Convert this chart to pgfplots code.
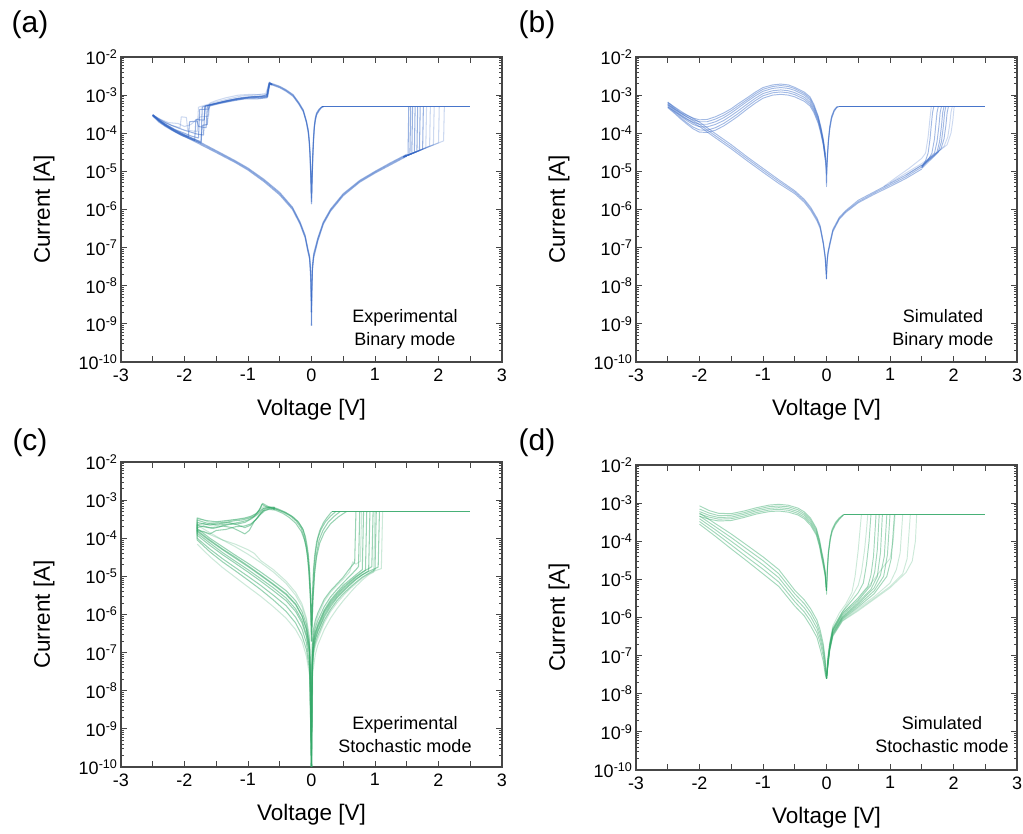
\documentclass[border=0pt]{standalone}
\usepackage{pgfplots}
\pgfplotsset{compat=1.18}
\usepackage{pgfplotstable}
\usepackage{fontspec}
\setmainfont{Liberation Sans}

\definecolor{cblue}{RGB}{52,102,196}
\definecolor{cgreen}{RGB}{52,168,104}
\definecolor{framecol}{RGB}{70,70,70}

\newcommand{\ylab}[1]{10\textsuperscript{-#1}}

% ---------- (a) experimental binary ----------
\pgfplotstableread{
x a b c
0 9e-10 2e-9 4e-9
0.005 5e-9 7e-9 1e-8
0.015 2.5e-8 3e-8 3.5e-8
0.035 5.5e-8 6.2e-8 7e-8
0.06 8e-8 9e-8 1e-7
0.1 1.5e-7 1.65e-7 1.8e-7
0.186 4.1e-7 4.4e-7 4.7e-7
0.3 9e-7 9.6e-7 1.02e-6
0.5 2.3e-6 2.45e-6 2.6e-6
0.76 5.2e-6 5.5e-6 5.8e-6
1.0 9e-6 9.5e-6 1e-5
1.25 1.5e-5 1.6e-5 1.7e-5
1.5 2.5e-5 2.65e-5 2.8e-5
}\Ahr
\pgfplotstableread{
x a b c
0.19 5e-4 5e-4 5e-4
0.16 4.9e-4 4.85e-4 4.8e-4
0.12 4.3e-4 4.1e-4 3.9e-4
0.08 3.4e-4 3.2e-4 3e-4
0.06 2.5e-4 2.3e-4 2.1e-4
0.045 1.6e-4 1.5e-4 1.4e-4
0.032 8e-5 7e-5 6e-5
0.02 3e-5 2.5e-5 2e-5
0.01 8e-6 7e-6 6e-6
0 1.4e-6 1.6e-6 2e-6
-0.01 8e-6 7e-6 6e-6
-0.022 3e-5 2.6e-5 2.2e-5
-0.035 6.5e-5 6e-5 5.5e-5
-0.05 1.2e-4 1.1e-4 1e-4
-0.08 2.1e-4 2e-4 1.9e-4
-0.13 4.1e-4 3.9e-4 3.7e-4
-0.2 6.4e-4 6.1e-4 5.8e-4
-0.29 1.03e-3 9.8e-4 9.3e-4
-0.4 1.38e-3 1.32e-3 1.26e-3
-0.5 1.7e-3 1.63e-3 1.56e-3
-0.6 1.95e-3 1.87e-3 1.8e-3
-0.65 2.05e-3 1.97e-3 1.9e-3
}\Alrs
\pgfplotstableread{
x a b c
-2.5 3.1e-4 2.95e-4 2.8e-4
-2.45 2.55e-4 2.45e-4 2.35e-4
-2.4 2.15e-4 2.05e-4 1.95e-4
-2.3 1.65e-4 1.57e-4 1.5e-4
-2.2 1.33e-4 1.26e-4 1.2e-4
-2.1 1.1e-4 1.04e-4 9.8e-5
-2.0 9.2e-5 8.7e-5 8.2e-5
-1.8 6.4e-5 6e-5 5.6e-5
-1.5 3.5e-5 3.3e-5 3.1e-5
-1.2 1.9e-5 1.8e-5 1.7e-5
-1.0 1.22e-5 1.15e-5 1.08e-5
-0.75 6.2e-6 5.8e-6 5.4e-6
-0.5 2.8e-6 2.6e-6 2.4e-6
-0.3 1.15e-6 1.08e-6 1e-6
-0.18 4.7e-7 4.4e-7 4.1e-7
-0.1 2.1e-7 1.95e-7 1.8e-7
-0.055 9e-8 8.3e-8 7.6e-8
-0.03 6e-8 5.5e-8 5e-8
-0.012 2.5e-8 2e-8 1.5e-8
0 4e-9 2e-9 9e-10
}\Ahl

% ---------- (b) simulated binary ----------
\pgfplotstableread{
x a b c
0 1.5e-8 2e-8 3e-8
0.01 4e-8 4.5e-8 5e-8
0.025 7e-8 7.5e-8 8e-8
0.05 1.1e-7 1.2e-7 1.3e-7
0.1 2.6e-7 2.8e-7 3e-7
0.2 5.5e-7 5.8e-7 6.2e-7
0.3 8.3e-7 8.8e-7 9.3e-7
0.5 1.5e-6 1.6e-6 1.75e-6
0.75 2.5e-6 2.7e-6 2.9e-6
1.0 4e-6 4.4e-6 4.8e-6
1.25 6.5e-6 7.2e-6 8e-6
1.5 1.15e-5 1.3e-5 1.45e-5
}\Bhr
\pgfplotstableread{
x a b c
0.19 5e-4 5e-4 5e-4
0.16 4.9e-4 4.8e-4 4.7e-4
0.12 4.1e-4 3.9e-4 3.7e-4
0.08 2.8e-4 2.6e-4 2.4e-4
0.05 1.5e-4 1.35e-4 1.2e-4
0.03 7e-5 6.3e-5 5.6e-5
0.015 3e-5 2.6e-5 2.2e-5
0.005 1.4e-5 1.2e-5 1e-5
0 8e-6 5e-6 4e-6
-0.005 1.4e-5 1.2e-5 1e-5
-0.02 3e-5 2.6e-5 2.2e-5
}\Bdip
\pgfplotstableread{
x a b c d e f
-0.02 3e-5 2.8e-5 2.6e-5 2.4e-5 2.2e-5 2e-5
-0.05 7e-5 6.5e-5 6e-5 5.6e-5 5.2e-5 4.8e-5
-0.09 1.5e-4 1.4e-4 1.3e-4 1.2e-4 1.1e-4 1e-4
-0.13 2.8e-4 2.6e-4 2.4e-4 2.2e-4 2e-4 1.8e-4
-0.2 5.8e-4 5.3e-4 4.8e-4 4.3e-4 3.9e-4 3.5e-4
-0.26 9e-4 8.2e-4 7.4e-4 6.5e-4 5.8e-4 5.2e-4
-0.35 1.2e-3 1.1e-3 1e-3 8.8e-4 7.8e-4 6.9e-4
-0.5 1.6e-3 1.48e-3 1.33e-3 1.16e-3 1.03e-3 9e-4
-0.6 1.85e-3 1.68e-3 1.5e-3 1.3e-3 1.15e-3 1e-3
-0.72 1.95e-3 1.78e-3 1.58e-3 1.37e-3 1.21e-3 1.05e-3
-0.85 1.85e-3 1.68e-3 1.5e-3 1.3e-3 1.15e-3 1e-3
-1.0 1.58e-3 1.42e-3 1.26e-3 1.1e-3 9.6e-4 8.3e-4
-1.12 1.2e-3 1.08e-3 9.6e-4 8.3e-4 7.2e-4 6.2e-4
-1.25 8.5e-4 7.6e-4 6.8e-4 5.8e-4 5e-4 4.3e-4
-1.4 5.8e-4 5.1e-4 4.5e-4 3.8e-4 3.2e-4 2.75e-4
-1.5 4.4e-4 3.9e-4 3.4e-4 2.9e-4 2.45e-4 2.1e-4
-1.62 3.4e-4 2.95e-4 2.55e-4 2.15e-4 1.8e-4 1.55e-4
-1.75 2.7e-4 2.35e-4 2e-4 1.7e-4 1.4e-4 1.2e-4
-1.88 2.3e-4 2e-4 1.72e-4 1.47e-4 1.2e-4 1.05e-4
-2.0 2.25e-4 2e-4 1.72e-4 1.48e-4 1.22e-4 1.07e-4
-2.1 2.5e-4 2.25e-4 1.95e-4 1.7e-4 1.45e-4 1.3e-4
-2.2 2.95e-4 2.7e-4 2.4e-4 2.15e-4 1.9e-4 1.75e-4
-2.3 3.6e-4 3.4e-4 3.1e-4 2.85e-4 2.6e-4 2.4e-4
-2.4 4.8e-4 4.5e-4 4.2e-4 3.9e-4 3.6e-4 3.4e-4
-2.5 6.6e-4 6.2e-4 5.8e-4 5.4e-4 5e-4 4.7e-4
}\Bhump
\pgfplotstableread{
x a b c
-2.5 6.4e-4 5.6e-4 4.9e-4
-2.25 3.4e-4 3e-4 2.6e-4
-2.0 1.95e-4 1.7e-4 1.5e-4
-1.75 9.8e-5 8.6e-5 7.6e-5
-1.5 5e-5 4.4e-5 3.9e-5
-1.25 2.4e-5 2.15e-5 1.9e-5
-1.0 1.2e-5 1.07e-5 9.5e-6
-0.75 6e-6 5.4e-6 4.8e-6
-0.5 3.1e-6 2.85e-6 2.6e-6
-0.35 1.85e-6 1.7e-6 1.55e-6
-0.25 1.15e-6 1.05e-6 9.5e-7
-0.15 6e-7 5.5e-7 5e-7
-0.1 3.8e-7 3.5e-7 3.2e-7
-0.05 1.4e-7 1.3e-7 1.2e-7
-0.02 6e-8 5.5e-8 5e-8
0 2e-8 1.5e-8 1.5e-8
}\Bret

% ---------- (d) simulated stochastic ----------
\pgfplotstableread{
x a b c
0.27 5e-4 5e-4 5e-4
0.2 4.1e-4 3.9e-4 3.7e-4
0.14 3.1e-4 2.9e-4 2.7e-4
0.09 2.1e-4 1.95e-4 1.8e-4
0.06 1.3e-4 1.2e-4 1.1e-4
0.03 5.5e-5 5e-5 4.5e-5
0.015 2.2e-5 2e-5 1.8e-5
0 6e-6 5e-6 4e-6
}\Ddip
\pgfplotstableread{
x a b c d e
0 5e-6 5e-6 5e-6 5e-6 5e-6
-0.02 1.6e-5 1.5e-5 1.4e-5 1.3e-5 1.2e-5
-0.05 3.4e-5 3.1e-5 2.8e-5 2.5e-5 2.2e-5
-0.076 5.5e-5 5e-5 4.5e-5 4e-5 3.6e-5
-0.11 1.1e-4 1e-4 9e-5 8e-5 7.2e-5
-0.16 2.2e-4 2e-4 1.8e-4 1.6e-4 1.45e-4
-0.25 4e-4 3.6e-4 3.2e-4 2.9e-4 2.6e-4
-0.35 5.9e-4 5.3e-4 4.8e-4 4.3e-4 3.9e-4
-0.45 7.4e-4 6.7e-4 6e-4 5.4e-4 4.9e-4
-0.6 8.8e-4 8e-4 7.2e-4 6.5e-4 5.8e-4
-0.75 9.3e-4 8.4e-4 7.6e-4 6.9e-4 6.2e-4
-0.9 8.9e-4 8.1e-4 7.3e-4 6.6e-4 6e-4
-1.1 7.6e-4 6.9e-4 6.3e-4 5.7e-4 5.2e-4
-1.3 6.2e-4 5.6e-4 5.1e-4 4.6e-4 4.2e-4
-1.5 5.3e-4 4.8e-4 4.3e-4 3.9e-4 3.5e-4
-1.7 5.4e-4 4.7e-4 4.2e-4 3.8e-4 3.4e-4
-1.85 6.4e-4 5.5e-4 4.8e-4 4.3e-4 3.8e-4
-2.0 8.5e-4 7e-4 6e-4 5.2e-4 4.5e-4
}\Dhump
\pgfplotstableread{
x a b c d e
-2.0 5.5e-4 4.6e-4 3.9e-4 3.3e-4 2.8e-4
-1.75 2.9e-4 2.4e-4 2e-4 1.65e-4 1.35e-4
-1.5 1.55e-4 1.25e-4 1e-4 8e-5 6.3e-5
-1.25 7.8e-5 6.2e-5 4.9e-5 3.8e-5 3e-5
-1.0 3.9e-5 3.1e-5 2.4e-5 1.85e-5 1.4e-5
-0.75 1.8e-5 1.4e-5 1.1e-5 8.5e-6 6.5e-6
-0.5 5.2e-6 4.2e-6 3.3e-6 2.6e-6 2e-6
-0.35 2.9e-6 2.3e-6 1.8e-6 1.4e-6 1.1e-6
-0.25 1.7e-6 1.35e-6 1.05e-6 8e-7 6e-7
-0.15 8.5e-7 6.7e-7 5.2e-7 4e-7 3e-7
-0.1 4.7e-7 3.7e-7 2.9e-7 2.2e-7 1.5e-7
-0.05 2e-7 1.6e-7 1.25e-7 9.5e-8 7e-8
-0.02 8e-8 6.5e-8 5e-8 4e-8 3.2e-8
0 2.5e-8 2.5e-8 2.5e-8 2.5e-8 2.5e-8
}\Dret

\begin{document}
\begin{tikzpicture}
\path[use as bounding box] (0,0) rectangle (1023pt,834pt);

% ================= (a) =================
\begin{axis}[at={(121pt,472pt)}, anchor=south west,
  scale only axis, width=381pt, height=305pt,
  xmin=-3, xmax=3, ymode=log, ymin=1e-10, ymax=1e-2,
  xtick={-3,-2.5,-2,-1.5,-1,-0.5,0,0.5,1,1.5,2,2.5,3},
  xticklabels={-3,,-2,,-1,,0,,1,,2,,3},
  ytick={1e-10,1e-9,1e-8,1e-7,1e-6,1e-5,1e-4,1e-3,1e-2},
  yticklabels={\ylab{10},\ylab{9},\ylab{8},\ylab{7},\ylab{6},\ylab{5},\ylab{4},\ylab{3},\ylab{2}},
  tick align=inside, major tick length=6pt, minor tick length=3pt,
  axis line style={draw=framecol, line width=1.1pt},
  tick style={draw=framecol, line width=0.8pt},
  tick label style={font=\fontsize{18}{18}\selectfont},
  xticklabel style={yshift=-3pt},
  xlabel={Voltage [V]}, ylabel={Current [A]},
  xlabel style={font=\fontsize{22.5}{22.5}\selectfont, at={(axis description cs:0.5,-0.11)}, anchor=north},
  ylabel style={font=\fontsize{22.5}{22.5}\selectfont, at={(axis description cs:-0.165,0.5)}, anchor=south},
  cycle list={{cblue}},
  every axis plot/.append style={no marks, solid, line width=1.05pt, color=cblue, opacity=0.5, line join=round},
]
\addplot table[x=x,y=a] {\Ahr};
\addplot table[x=x,y=b] {\Ahr};
\addplot table[x=x,y=c] {\Ahr};
\addplot table[x=x,y=a] {\Alrs};
\addplot table[x=x,y=b] {\Alrs};
\addplot table[x=x,y=c] {\Alrs};
\addplot table[x=x,y=a] {\Ahl};
\addplot table[x=x,y=b] {\Ahl};
\addplot table[x=x,y=c] {\Ahl};
% set events
\addplot coordinates {(1.45,2.4e-5)(1.52,2.68e-5)(1.532,5e-4)};
\addplot coordinates {(1.45,2.4e-5)(1.55,2.8e-5)(1.562,5e-4)};
\addplot coordinates {(1.45,2.4e-5)(1.58,2.9e-5)(1.592,5e-4)};
\addplot coordinates {(1.45,2.4e-5)(1.62,3.1e-5)(1.632,5e-4)};
\addplot coordinates {(1.45,2.4e-5)(1.66,3.3e-5)(1.672,5e-4)};
\addplot coordinates {(1.45,2.4e-5)(1.70,3.5e-5)(1.712,5e-4)};
\addplot coordinates {(1.45,2.4e-5)(1.75,3.8e-5)(1.762,5e-4)};
\addplot[opacity=0.25] coordinates {(1.45,2.4e-5)(1.80,4.1e-5)(1.812,5e-4)};
\addplot[opacity=0.25] coordinates {(1.45,2.4e-5)(1.86,4.6e-5)(1.872,5e-4)};
\addplot[opacity=0.25] coordinates {(1.45,2.4e-5)(1.92,5e-5)(1.932,5e-4)};
\addplot[opacity=0.25] coordinates {(1.45,2.4e-5)(2.00,5.6e-5)(2.012,5e-4)};
\addplot[opacity=0.25] coordinates {(1.45,2.4e-5)(2.08,6.3e-5)(2.092,5e-4)};
\addplot[opacity=0.9] coordinates {(0.17,5e-4)(2.5,5e-4)};
% reset events
\addplot coordinates {(-0.62,1.92e-3)(-0.665,2.15e-3)(-0.7,1.05e-3)(-0.8,9e-4)(-1.0,8.8e-4)(-1.2,7.8e-4)(-1.4,6.7e-4)(-1.6,5.6e-4)(-1.68,5.2e-4)(-1.7,9e-5)(-1.8,9.5e-5)(-1.9,1.07e-4)(-2.0,1.2e-4)(-2.1,1.38e-4)(-2.2,1.6e-4)(-2.3,1.9e-4)(-2.4,2.35e-4)(-2.5,3e-4)};
\addplot coordinates {(-0.62,1.85e-3)(-0.655,2e-3)(-0.69,9e-4)(-0.8,8.5e-4)(-1.0,8.3e-4)(-1.2,7.5e-4)(-1.4,6.4e-4)(-1.6,5.4e-4)(-1.72,4.9e-4)(-1.74,6e-5)(-1.85,7e-5)(-2.0,9e-5)(-2.1,1.1e-4)(-2.2,1.35e-4)(-2.3,1.7e-4)(-2.4,2.2e-4)(-2.5,2.9e-4)};
\addplot coordinates {(-0.62,1.9e-3)(-0.67,2.05e-3)(-0.71,9.5e-4)(-0.9,9.2e-4)(-1.1,8.6e-4)(-1.3,7.4e-4)(-1.5,6.1e-4)(-1.64,5.3e-4)(-1.66,1.4e-4)(-1.78,1.5e-4)(-1.8,2.1e-4)(-1.92,2e-4)(-1.94,8e-5)(-2.05,9.5e-5)(-2.2,1.3e-4)(-2.35,1.9e-4)(-2.5,3e-4)};
\addplot coordinates {(-0.62,1.88e-3)(-0.66,2.1e-3)(-0.7,8.5e-4)(-0.85,8e-4)(-1.05,8e-4)(-1.25,7e-4)(-1.45,6e-4)(-1.6,5.2e-4)(-1.62,4.3e-4)(-1.76,4.2e-4)(-1.78,7.5e-5)(-1.9,8.5e-5)(-2.0,1e-4)(-2.15,1.25e-4)(-2.3,1.75e-4)(-2.4,2.25e-4)(-2.5,3e-4)};
\addplot[opacity=0.25] coordinates {(-0.62,1.9e-3)(-0.66,2.2e-3)(-0.72,1.1e-3)(-0.9,1e-3)(-1.1,9.5e-4)(-1.3,8e-4)(-1.5,6.6e-4)(-1.7,5.3e-4)(-1.78,4.8e-4)(-1.8,1.1e-4)(-1.95,1.2e-4)(-1.97,2.6e-4)(-2.05,2.7e-4)(-2.07,1.4e-4)(-2.2,1.6e-4)(-2.35,2.1e-4)(-2.5,3.1e-4)};
\addplot coordinates {(-0.62,1.9e-3)(-0.66,2e-3)(-0.7,9e-4)(-0.9,8.7e-4)(-1.15,8.2e-4)(-1.35,7e-4)(-1.55,5.8e-4)(-1.67,5.2e-4)(-1.69,2.2e-4)(-1.82,2.3e-4)(-1.84,6.5e-5)(-2.0,8.5e-5)(-2.15,1.1e-4)(-2.3,1.6e-4)(-2.4,2.1e-4)(-2.5,2.9e-4)};
\addplot[opacity=0.25] coordinates {(-0.62,1.9e-3)(-0.66,2e-3)(-0.7,1e-3)(-0.95,1.05e-3)(-1.15,1e-3)(-1.35,8.5e-4)(-1.5,7.2e-4)(-1.6,6.2e-4)(-1.62,2.8e-4)(-1.75,2.7e-4)(-1.9,1.7e-4)(-2.0,1.5e-4)(-2.1,1.8e-4)(-2.25,1.9e-4)(-2.4,2.4e-4)(-2.5,3e-4)};
\addplot coordinates {(-0.62,1.9e-3)(-0.66,2.05e-3)(-0.7,9.5e-4)(-0.95,9e-4)(-1.2,7.6e-4)(-1.45,6.3e-4)(-1.62,5.4e-4)(-1.64,1.7e-4)(-1.72,1.6e-4)(-1.74,5.5e-5)(-1.9,7e-5)(-2.05,8.8e-5)(-2.2,1.25e-4)(-2.35,1.8e-4)(-2.5,3e-4)};
\end{axis}

% ================= (b) =================
\begin{axis}[at={(636pt,472pt)}, anchor=south west,
  scale only axis, width=381pt, height=305pt,
  xmin=-3, xmax=3, ymode=log, ymin=1e-10, ymax=1e-2,
  xtick={-3,-2.5,-2,-1.5,-1,-0.5,0,0.5,1,1.5,2,2.5,3},
  xticklabels={-3,,-2,,-1,,0,,1,,2,,3},
  ytick={1e-10,1e-9,1e-8,1e-7,1e-6,1e-5,1e-4,1e-3,1e-2},
  yticklabels={\ylab{10},\ylab{9},\ylab{8},\ylab{7},\ylab{6},\ylab{5},\ylab{4},\ylab{3},\ylab{2}},
  tick align=inside, major tick length=6pt, minor tick length=3pt,
  axis line style={draw=framecol, line width=1.1pt},
  tick style={draw=framecol, line width=0.8pt},
  tick label style={font=\fontsize{18}{18}\selectfont},
  xticklabel style={yshift=-3pt},
  xlabel={Voltage [V]}, ylabel={Current [A]},
  xlabel style={font=\fontsize{22.5}{22.5}\selectfont, at={(axis description cs:0.5,-0.11)}, anchor=north},
  ylabel style={font=\fontsize{22.5}{22.5}\selectfont, at={(axis description cs:-0.165,0.5)}, anchor=south},
  cycle list={{cblue}},
  every axis plot/.append style={no marks, solid, line width=0.95pt, color=cblue, opacity=0.45, line join=round},
]
\addplot table[x=x,y=a] {\Bhr};
\addplot table[x=x,y=b] {\Bhr};
\addplot table[x=x,y=c] {\Bhr};
\addplot table[x=x,y=a] {\Bdip};
\addplot table[x=x,y=b] {\Bdip};
\addplot table[x=x,y=c] {\Bdip};
\addplot table[x=x,y=a] {\Bret};
\addplot table[x=x,y=b] {\Bret};
\addplot table[x=x,y=c] {\Bret};
\addplot table[x=x,y=a] {\Bhump};
\addplot table[x=x,y=b] {\Bhump};
\addplot table[x=x,y=c] {\Bhump};
\addplot table[x=x,y=d] {\Bhump};
\addplot table[x=x,y=e] {\Bhump};
\addplot table[x=x,y=f] {\Bhump};
\addplot coordinates {(1.5,1.3e-5)(1.56,1.9e-5)(1.6,3e-5)(1.63,7e-5)(1.65,1.6e-4)(1.67,3.5e-4)(1.69,5e-4)};
\addplot coordinates {(1.5,1.25e-5)(1.6,2e-5)(1.66,3e-5)(1.7,7e-5)(1.72,1.6e-4)(1.74,3.5e-4)(1.76,5e-4)};
\addplot coordinates {(1.5,1.35e-5)(1.6,2.1e-5)(1.7,3e-5)(1.74,6e-5)(1.77,1.5e-4)(1.79,3.5e-4)(1.81,5e-4)};
\addplot coordinates {(1.5,1.3e-5)(1.65,2.3e-5)(1.74,3.2e-5)(1.78,6e-5)(1.81,1.5e-4)(1.83,3.5e-4)(1.85,5e-4)};
\addplot coordinates {(1.5,1.2e-5)(1.65,2.1e-5)(1.76,3.2e-5)(1.81,6e-5)(1.84,1.5e-4)(1.86,3.5e-4)(1.88,5e-4)};
\addplot coordinates {(1.5,1.4e-5)(1.7,2.6e-5)(1.8,3.8e-5)(1.85,7e-5)(1.88,1.6e-4)(1.9,3.5e-4)(1.92,5e-4)};
\addplot[opacity=0.25] coordinates {(1.25,8e-6)(1.5,1.45e-5)(1.7,2.8e-5)(1.85,4.5e-5)(1.91,8e-5)(1.94,1.7e-4)(1.96,3.5e-4)(1.98,5e-4)};
\addplot[opacity=0.25] coordinates {(1.0,5e-6)(1.25,9e-6)(1.5,1.6e-5)(1.75,3.2e-5)(1.9,5e-5)(1.96,1e-4)(1.99,2.2e-4)(2.01,5e-4)};
\addplot[opacity=0.25] coordinates {(0.9,4e-6)(1.1,7e-6)(1.3,1.2e-5)(1.5,2.2e-5)(1.56,3e-5)(1.6,8e-5)(1.63,2.5e-4)(1.65,5e-4)};
\addplot[opacity=0.9] coordinates {(0.19,5e-4)(2.5,5e-4)};
\end{axis}

% ================= (c) =================
\begin{axis}[at={(121pt,67pt)}, anchor=south west,
  scale only axis, width=381pt, height=305pt,
  xmin=-3, xmax=3, ymode=log, ymin=1e-10, ymax=1e-2,
  xtick={-3,-2.5,-2,-1.5,-1,-0.5,0,0.5,1,1.5,2,2.5,3},
  xticklabels={-3,,-2,,-1,,0,,1,,2,,3},
  ytick={1e-10,1e-9,1e-8,1e-7,1e-6,1e-5,1e-4,1e-3,1e-2},
  yticklabels={\ylab{10},\ylab{9},\ylab{8},\ylab{7},\ylab{6},\ylab{5},\ylab{4},\ylab{3},\ylab{2}},
  tick align=inside, major tick length=6pt, minor tick length=3pt,
  axis line style={draw=framecol, line width=1.1pt},
  tick style={draw=framecol, line width=0.8pt},
  tick label style={font=\fontsize{18}{18}\selectfont},
  xticklabel style={yshift=-3pt},
  xlabel={Voltage [V]}, ylabel={Current [A]},
  xlabel style={font=\fontsize{22.5}{22.5}\selectfont, at={(axis description cs:0.5,-0.11)}, anchor=north},
  ylabel style={font=\fontsize{22.5}{22.5}\selectfont, at={(axis description cs:-0.165,0.5)}, anchor=south},
  cycle list={{cgreen}},
  every axis plot/.append style={no marks, solid, line width=1.05pt, color=cgreen, opacity=0.5, line join=round},
]
% HRS and set, positive side
\addplot coordinates {(0,3e-10)(0.01,1.5e-7)(0.03,4e-7)(0.06,7e-7)(0.1,1.1e-6)(0.2,2.5e-6)(0.3,4.2e-6)(0.4,6.3e-6)(0.5,9.5e-6)(0.6,1.6e-5)(0.68,2.3e-5)(0.7,5e-4)};
\addplot coordinates {(0,1e-10)(0.01,8e-8)(0.03,2.5e-7)(0.06,4.5e-7)(0.1,7e-7)(0.2,1.6e-6)(0.3,2.9e-6)(0.4,4.5e-6)(0.5,6.8e-6)(0.6,1e-5)(0.7,1.5e-5)(0.74,1.8e-5)(0.76,5e-4)};
\addplot coordinates {(0,2e-10)(0.01,6e-8)(0.03,2e-7)(0.06,3.5e-7)(0.1,5.5e-7)(0.2,1.3e-6)(0.3,2.4e-6)(0.4,3.8e-6)(0.5,5.8e-6)(0.6,8e-6)(0.7,1.1e-5)(0.8,1.5e-5)(0.82,5e-4)};
\addplot coordinates {(0,1e-10)(0.01,4e-8)(0.03,1.5e-7)(0.06,2.8e-7)(0.1,4.5e-7)(0.2,1.1e-6)(0.3,2e-6)(0.4,3.2e-6)(0.5,4.8e-6)(0.6,6.8e-6)(0.7,9.5e-6)(0.8,1.25e-5)(0.85,1.45e-5)(0.87,5e-4)};
\addplot coordinates {(0,3e-10)(0.01,3e-8)(0.03,1.2e-7)(0.06,2.2e-7)(0.1,3.5e-7)(0.2,8.5e-7)(0.3,1.6e-6)(0.4,2.7e-6)(0.5,4e-6)(0.6,5.8e-6)(0.7,8.2e-6)(0.8,1.1e-5)(0.9,1.4e-5)(0.92,5e-4)};
\addplot coordinates {(0,1e-10)(0.01,5e-8)(0.03,1.8e-7)(0.06,3.2e-7)(0.1,5e-7)(0.2,1.2e-6)(0.3,2.2e-6)(0.4,3.5e-6)(0.5,5.2e-6)(0.6,7.3e-6)(0.7,1e-5)(0.8,1.3e-5)(0.9,1.6e-5)(0.95,1.8e-5)(0.97,5e-4)};
\addplot coordinates {(0,2e-10)(0.01,2.5e-8)(0.03,1e-7)(0.06,1.8e-7)(0.1,2.8e-7)(0.2,7e-7)(0.3,1.35e-6)(0.4,2.3e-6)(0.5,3.5e-6)(0.6,5e-6)(0.7,7e-6)(0.8,9.5e-6)(0.9,1.2e-5)(1.0,1.5e-5)(1.02,5e-4)};
\addplot coordinates {(0,1e-10)(0.01,3.5e-8)(0.03,1.3e-7)(0.06,2.4e-7)(0.1,3.8e-7)(0.2,9.5e-7)(0.3,1.8e-6)(0.4,2.9e-6)(0.5,4.3e-6)(0.6,6.2e-6)(0.7,8.6e-6)(0.8,1.1e-5)(0.9,1.35e-5)(1.0,1.6e-5)(1.05,1.75e-5)(1.07,5e-4)};
\addplot[opacity=0.25] coordinates {(0,1e-10)(0.01,2e-8)(0.03,8e-8)(0.06,1.5e-7)(0.1,2.3e-7)(0.2,6e-7)(0.3,1.2e-6)(0.4,2e-6)(0.5,3.1e-6)(0.6,4.6e-6)(0.7,6.5e-6)(0.8,9e-6)(0.9,1.15e-5)(1.0,1.4e-5)(1.1,1.6e-5)(1.12,5e-4)};
\addplot[opacity=0.25] coordinates {(0,1e-10)(0.01,1e-7)(0.03,3e-7)(0.06,5.5e-7)(0.1,9e-7)(0.2,2.2e-6)(0.3,3.8e-6)(0.4,5.8e-6)(0.5,8.5e-6)(0.6,1.3e-5)(0.65,2.4e-5)(0.7,2.1e-5)(0.77,2.5e-5)(0.79,5e-4)};
\addplot[opacity=0.25] coordinates {(0,1e-10)(0.02,3e-8)(0.06,9e-8)(0.1,1.6e-7)(0.2,4e-7)(0.3,8e-7)(0.4,1.4e-6)(0.5,2.3e-6)(0.6,3.6e-6)(0.7,5.5e-6)(0.8,8e-6)(0.9,1.1e-5)(0.98,1.3e-5)(1.0,5e-4)};
\addplot[opacity=0.9] coordinates {(0.32,5e-4)(2.5,5e-4)};
% LRS around zero
\addplot coordinates {(0.32,5e-4)(0.25,3.6e-4)(0.19,2.6e-4)(0.13,1.6e-4)(0.08,8e-5)(0.05,3.5e-5)(0.03,1.4e-5)(0.015,3e-6)(0,3e-7)(-0.015,3e-6)(-0.035,1.4e-5)(-0.055,3.5e-5)(-0.076,6e-5)(-0.1,1e-4)(-0.13,1.65e-4)(-0.2,2.6e-4)(-0.29,3.6e-4)(-0.4,4.6e-4)(-0.5,5.4e-4)(-0.58,6e-4)};
\addplot coordinates {(0.38,5e-4)(0.3,3.8e-4)(0.22,2.7e-4)(0.15,1.7e-4)(0.1,1e-4)(0.065,4.5e-5)(0.04,1.7e-5)(0.02,4e-6)(0,5e-7)(-0.02,4e-6)(-0.045,1.7e-5)(-0.065,3.5e-5)(-0.09,6.5e-5)(-0.12,1.1e-4)(-0.16,1.8e-4)(-0.24,2.8e-4)(-0.33,3.8e-4)(-0.44,4.8e-4)(-0.55,5.7e-4)(-0.6,6.2e-4)};
\addplot coordinates {(0.45,5e-4)(0.35,3.7e-4)(0.26,2.6e-4)(0.18,1.6e-4)(0.12,9e-5)(0.08,4e-5)(0.05,1.5e-5)(0.025,3e-6)(0,2e-7)(-0.01,3e-6)(-0.03,1.5e-5)(-0.05,3.8e-5)(-0.07,6.5e-5)(-0.095,1.1e-4)(-0.14,1.8e-4)(-0.22,2.8e-4)(-0.32,3.9e-4)(-0.42,4.9e-4)(-0.52,5.8e-4)(-0.6,6.5e-4)};
\addplot coordinates {(0.55,5e-4)(0.42,3.6e-4)(0.3,2.4e-4)(0.2,1.4e-4)(0.13,7.5e-5)(0.08,3.2e-5)(0.05,1.2e-5)(0.02,2e-6)(0,2e-7)(-0.015,2e-6)(-0.04,1.2e-5)(-0.06,3e-5)(-0.08,5.5e-5)(-0.11,9e-5)(-0.16,1.5e-4)(-0.25,2.5e-4)(-0.35,3.5e-4)(-0.45,4.5e-4)(-0.55,5.3e-4)(-0.6,5.8e-4)};
% reset and negative side
\addplot coordinates {(-0.58,6e-4)(-0.65,6.3e-4)(-0.72,6.8e-4)(-0.78,7.8e-4)(-0.82,5.5e-4)(-0.9,3.8e-4)(-1.0,3.3e-4)(-1.1,3e-4)(-1.2,2.9e-4)(-1.35,2.6e-4)(-1.5,2.5e-4)(-1.65,2.3e-4)(-1.8,2.6e-4)(-1.8,1.5e-4)(-1.6,8.5e-5)(-1.4,5e-5)(-1.2,3e-5)(-1.0,1.8e-5)(-0.8,1.05e-5)(-0.6,6e-6)(-0.4,3.3e-6)(-0.25,1.8e-6)(-0.15,9e-7)(-0.08,4e-7)(-0.03,1.2e-7)(-0.01,1e-8)(0,1e-10)};
\addplot coordinates {(-0.58,6.3e-4)(-0.65,6.5e-4)(-0.75,6e-4)(-0.85,4.2e-4)(-0.95,3.2e-4)(-1.05,2.6e-4)(-1.15,2.4e-4)(-1.3,2.3e-4)(-1.45,2e-4)(-1.6,1.9e-4)(-1.7,2.1e-4)(-1.8,1.9e-4)(-1.8,1.2e-4)(-1.6,6.5e-5)(-1.4,3.7e-5)(-1.2,2.2e-5)(-1.0,1.3e-5)(-0.8,7.5e-6)(-0.6,4.2e-6)(-0.4,2.3e-6)(-0.25,1.2e-6)(-0.15,6e-7)(-0.08,2.6e-7)(-0.03,8e-8)(-0.01,8e-9)(0,1e-10)};
\addplot coordinates {(-0.58,5.8e-4)(-0.66,6e-4)(-0.74,5.2e-4)(-0.82,4e-4)(-0.9,2.8e-4)(-0.98,1.6e-4)(-1.05,1.3e-4)(-1.12,1.5e-4)(-1.25,1.9e-4)(-1.4,2.1e-4)(-1.55,1.8e-4)(-1.7,2e-4)(-1.8,2.2e-4)(-1.8,1e-4)(-1.6,5.2e-5)(-1.4,2.9e-5)(-1.2,1.7e-5)(-1.0,1e-5)(-0.8,5.8e-6)(-0.6,3.2e-6)(-0.4,1.7e-6)(-0.25,8.5e-7)(-0.15,4.2e-7)(-0.08,1.8e-7)(-0.03,5e-8)(0,1e-10)};
\addplot coordinates {(-0.58,6.5e-4)(-0.66,6.6e-4)(-0.75,6.2e-4)(-0.83,5e-4)(-0.92,3.6e-4)(-1.0,3e-4)(-1.1,2.7e-4)(-1.2,2.5e-4)(-1.35,2.3e-4)(-1.5,2.2e-4)(-1.65,2.5e-4)(-1.8,3e-4)(-1.8,1.8e-4)(-1.6,1e-4)(-1.4,6e-5)(-1.2,3.6e-5)(-1.0,2.2e-5)(-0.8,1.3e-5)(-0.6,7.5e-6)(-0.4,4.2e-6)(-0.25,2.3e-6)(-0.15,1.2e-6)(-0.08,5.5e-7)(-0.03,1.6e-7)(-0.01,1.5e-8)(0,1e-10)};
\addplot coordinates {(-0.58,5.5e-4)(-0.67,5.7e-4)(-0.76,5.3e-4)(-0.85,3.4e-4)(-0.95,2.4e-4)(-1.05,2.1e-4)(-1.2,2e-4)(-1.35,1.7e-4)(-1.5,1.6e-4)(-1.6,1.3e-4)(-1.7,1.5e-4)(-1.8,1.6e-4)(-1.8,9e-5)(-1.6,4.4e-5)(-1.4,2.4e-5)(-1.2,1.4e-5)(-1.0,8e-6)(-0.8,4.5e-6)(-0.6,2.4e-6)(-0.4,1.2e-6)(-0.25,6e-7)(-0.15,2.8e-7)(-0.08,1.2e-7)(-0.03,3.5e-8)(0,1e-10)};
\addplot[opacity=0.25] coordinates {(-0.58,6.1e-4)(-0.66,6.4e-4)(-0.74,7e-4)(-0.8,6e-4)(-0.88,4.4e-4)(-0.98,3.5e-4)(-1.1,3.2e-4)(-1.25,3e-4)(-1.4,2.7e-4)(-1.6,2.6e-4)(-1.8,3.5e-4)(-1.8,2.2e-4)(-1.6,1.4e-4)(-1.4,9e-5)(-1.2,6e-5)(-1.0,3.8e-5)(-0.8,2.3e-5)(-0.6,1.3e-5)(-0.4,6.5e-6)(-0.25,3.2e-6)(-0.15,1.6e-6)(-0.08,7e-7)(-0.03,2e-7)(0,1e-10)};
\addplot coordinates {(-0.58,5.9e-4)(-0.65,6.2e-4)(-0.73,5.8e-4)(-0.8,4.6e-4)(-0.88,3e-4)(-0.96,2.2e-4)(-1.05,1.9e-4)(-1.15,2.2e-4)(-1.3,2.6e-4)(-1.45,2.4e-4)(-1.6,2.2e-4)(-1.7,2.4e-4)(-1.8,2.3e-4)(-1.8,1.35e-4)(-1.6,7.5e-5)(-1.4,4.2e-5)(-1.2,2.5e-5)(-1.0,1.5e-5)(-0.8,8.7e-6)(-0.6,5e-6)(-0.4,2.7e-6)(-0.25,1.4e-6)(-0.15,7e-7)(-0.08,3e-7)(-0.03,1e-7)(-0.01,1e-8)(0,1e-10)};
\addplot coordinates {(-0.58,6e-4)(-0.66,6.5e-4)(-0.77,8.2e-4)(-0.8,6.5e-4)(-0.86,4.5e-4)(-0.95,3.8e-4)(-1.05,3.4e-4)(-1.2,3.1e-4)(-1.35,2.9e-4)(-1.5,2.7e-4)(-1.65,2.9e-4)(-1.8,3.3e-4)(-1.8,1.6e-4)(-1.6,9e-5)(-1.4,5.2e-5)(-1.2,3.2e-5)(-1.0,1.9e-5)(-0.8,1.1e-5)(-0.6,6.3e-6)(-0.4,3.5e-6)(-0.25,1.9e-6)(-0.15,9.5e-7)(-0.08,4.3e-7)(-0.03,1.3e-7)(0,1e-10)};
\addplot[opacity=0.25] coordinates {(-1.8,7e-5)(-1.6,3.3e-5)(-1.4,1.7e-5)(-1.2,9.5e-6)(-1.0,5.3e-6)(-0.8,3e-6)(-0.6,1.6e-6)(-0.4,8e-7)(-0.25,4e-7)(-0.15,2e-7)(-0.08,8e-8)(-0.03,2.5e-8)(0,1e-10)};
\addplot[opacity=0.25] coordinates {(-1.8,1.7e-4)(-1.6,1.25e-4)(-1.4,9e-5)(-1.2,7e-5)(-1.0,5e-5)(-0.9,4e-5)(-0.8,2.6e-5)(-0.6,1.5e-5)(-0.4,7.5e-6)(-0.25,3.8e-6)(-0.15,1.9e-6)(-0.08,8e-7)(-0.03,2.5e-7)(0,1e-10)};
\end{axis}

% ================= (d) =================
\begin{axis}[at={(636pt,64pt)}, anchor=south west,
  scale only axis, width=381pt, height=305pt,
  xmin=-3, xmax=3, ymode=log, ymin=1e-10, ymax=1e-2,
  xtick={-3,-2.5,-2,-1.5,-1,-0.5,0,0.5,1,1.5,2,2.5,3},
  xticklabels={-3,,-2,,-1,,0,,1,,2,,3},
  ytick={1e-10,1e-9,1e-8,1e-7,1e-6,1e-5,1e-4,1e-3,1e-2},
  yticklabels={\ylab{10},\ylab{9},\ylab{8},\ylab{7},\ylab{6},\ylab{5},\ylab{4},\ylab{3},\ylab{2}},
  tick align=inside, major tick length=6pt, minor tick length=3pt,
  axis line style={draw=framecol, line width=1.1pt},
  tick style={draw=framecol, line width=0.8pt},
  tick label style={font=\fontsize{18}{18}\selectfont},
  xticklabel style={yshift=-3pt},
  xlabel={Voltage [V]}, ylabel={Current [A]},
  xlabel style={font=\fontsize{22.5}{22.5}\selectfont, at={(axis description cs:0.5,-0.11)}, anchor=north},
  ylabel style={font=\fontsize{22.5}{22.5}\selectfont, at={(axis description cs:-0.165,0.5)}, anchor=south},
  cycle list={{cgreen}},
  every axis plot/.append style={no marks, solid, line width=0.95pt, color=cgreen, opacity=0.45, line join=round},
]
\addplot table[x=x,y=a] {\Ddip};
\addplot table[x=x,y=b] {\Ddip};
\addplot table[x=x,y=c] {\Ddip};
\addplot table[x=x,y=a] {\Dhump};
\addplot table[x=x,y=b] {\Dhump};
\addplot table[x=x,y=c] {\Dhump};
\addplot table[x=x,y=d] {\Dhump};
\addplot table[x=x,y=e] {\Dhump};
\addplot table[x=x,y=a] {\Dret};
\addplot table[x=x,y=b] {\Dret};
\addplot table[x=x,y=c] {\Dret};
\addplot table[x=x,y=d] {\Dret};
\addplot table[x=x,y=e] {\Dret};
\addplot[opacity=0.25] coordinates {(0,2.5e-8)(0.02,9e-8)(0.05,2.2e-7)(0.1,6e-7)(0.2,1.3e-6)(0.3,2.2e-6)(0.4,4.5e-6)(0.45,1.2e-5)(0.5,6e-5)(0.53,2.2e-4)(0.55,5e-4)};
\addplot coordinates {(0,2.5e-8)(0.02,8e-8)(0.05,2e-7)(0.1,5.3e-7)(0.25,1.4e-6)(0.4,2.8e-6)(0.5,4.5e-6)(0.58,8e-6)(0.63,2.5e-5)(0.67,1e-4)(0.7,5e-4)};
\addplot coordinates {(0,3e-8)(0.02,7e-8)(0.05,1.8e-7)(0.1,4.8e-7)(0.25,1.25e-6)(0.5,3.3e-6)(0.65,6.5e-6)(0.7,1.3e-5)(0.74,4e-5)(0.76,1.4e-4)(0.78,5e-4)};
\addplot coordinates {(0,2.5e-8)(0.02,7e-8)(0.05,1.7e-7)(0.1,4.6e-7)(0.25,1.15e-6)(0.5,2.8e-6)(0.7,7e-6)(0.76,1.6e-5)(0.8,6e-5)(0.83,5e-4)};
\addplot coordinates {(0,2.5e-8)(0.02,6e-8)(0.05,1.6e-7)(0.1,4.3e-7)(0.25,1.05e-6)(0.5,2.5e-6)(0.7,5.5e-6)(0.8,1.2e-5)(0.85,5e-5)(0.88,5e-4)};
\addplot coordinates {(0,2.5e-8)(0.02,6e-8)(0.05,1.55e-7)(0.1,4e-7)(0.25,1e-6)(0.5,2.3e-6)(0.75,6e-6)(0.85,1.3e-5)(0.91,4e-5)(0.95,5e-4)};
\addplot coordinates {(0,2.5e-8)(0.02,5.5e-8)(0.05,1.5e-7)(0.1,3.8e-7)(0.25,9.5e-7)(0.5,2.1e-6)(0.75,5e-6)(0.9,1.2e-5)(0.96,4.5e-5)(1.0,5e-4)};
\addplot coordinates {(0,2.5e-8)(0.02,5.5e-8)(0.05,1.45e-7)(0.1,3.6e-7)(0.25,9e-7)(0.5,1.9e-6)(0.75,4.2e-6)(0.95,1.2e-5)(1.02,3.5e-5)(1.07,5e-4)};
\addplot[opacity=0.25] coordinates {(0,2.5e-8)(0.02,5e-8)(0.05,1.4e-7)(0.1,3.4e-7)(0.25,8.5e-7)(0.5,1.75e-6)(0.75,3.5e-6)(1.0,8e-6)(1.1,1.8e-5)(1.16,5e-5)(1.2,5e-4)};
\addplot[opacity=0.25] coordinates {(0,2.5e-8)(0.02,5e-8)(0.05,1.35e-7)(0.1,3.3e-7)(0.25,8.2e-7)(0.5,1.6e-6)(0.75,3.2e-6)(1.0,6.5e-6)(1.2,1.4e-5)(1.27,3.5e-5)(1.32,5e-4)};
\addplot[opacity=0.25] coordinates {(0,2.5e-8)(0.05,1.3e-7)(0.1,3.2e-7)(0.25,8e-7)(0.5,1.5e-6)(0.75,3e-6)(1.0,6e-6)(1.25,1.5e-5)(1.35,3e-5)(1.4,1e-4)(1.42,5e-4)};
\addplot[opacity=0.25] coordinates {(0,2.5e-8)(0.05,2e-7)(0.1,5e-7)(0.25,1.4e-6)(0.4,3.5e-6)(0.5,7e-6)(0.55,1.5e-5)(0.6,6e-5)(0.63,2e-4)(0.65,5e-4)};
\addplot[opacity=0.25] coordinates {(0,2.5e-8)(0.05,1.7e-7)(0.1,4.7e-7)(0.25,1.3e-6)(0.5,3e-6)(0.75,1e-5)(0.9,2.2e-5)(1.0,3.5e-5)(1.05,1e-4)(1.08,5e-4)};
\addplot[opacity=0.9] coordinates {(0.27,5e-4)(2.5,5e-4)};
\end{axis}

% panel letters and captions
\node[font=\fontsize{30}{30}\selectfont] at (30pt,809pt) {(a)};
\node[font=\fontsize{30}{30}\selectfont] at (537pt,809pt) {(b)};
\node[font=\fontsize{30}{30}\selectfont] at (30pt,391pt) {(c)};
\node[font=\fontsize{30}{30}\selectfont] at (537pt,391pt) {(d)};
\node[align=center, font=\fontsize{18}{23}\selectfont] at (405pt,505pt) {Experimental\\Binary mode};
\node[align=center, font=\fontsize{18}{23}\selectfont] at (943pt,505pt) {Simulated\\Binary mode};
\node[align=center, font=\fontsize{18}{23}\selectfont] at (405pt,99pt) {Experimental\\Stochastic mode};
\node[align=center, font=\fontsize{18}{23}\selectfont] at (942pt,99pt) {Simulated\\Stochastic mode};
\end{tikzpicture}
\end{document}
